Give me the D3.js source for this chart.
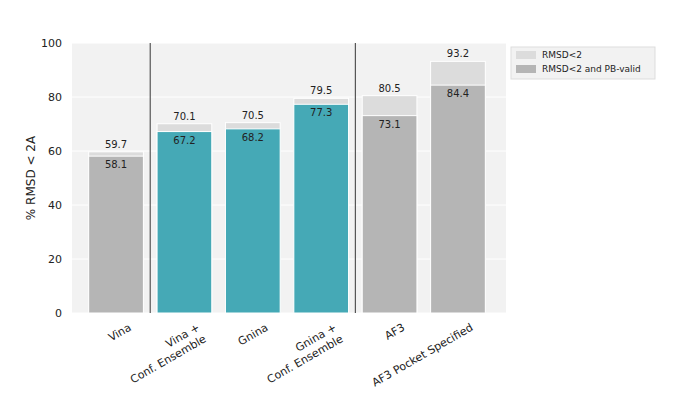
<!DOCTYPE html>
<html><head><meta charset="utf-8">
<script src="https://cdn.jsdelivr.net/npm/d3@7"></script>
<style>body{margin:0;background:#fff;font-family:"DejaVu Sans",sans-serif}</style>
</head><body><svg id="c"></svg>
<script>
const categories = ['Vina', 'Vina +\nConf. Ensemble', 'Gnina', 'Gnina +\nConf. Ensemble', 'AF3', 'AF3 Pocket Specified']
const rmsd = [59.7, 70.1, 70.5, 79.5, 80.5, 93.2]
const pbValid = [58.1, 67.2, 68.2, 77.3, 73.1, 84.4]
const isTeal = [false, true, true, true, false, false]
const yTicks = [0, 20, 40, 60, 80, 100]

const width = 680, height = 416
const svg = d3.select('#c').attr('width', width).attr('height', height)
const plot = { left: 72, right: 506, top: 43, bottom: 313 }

const x = d3.scaleBand().domain(categories).range([75, 499]).padding(0.2)
const y = d3.scaleLinear().domain([0, 100]).range([plot.bottom, plot.top])

svg.append('rect').attr('x', plot.left).attr('y', plot.top)
  .attr('width', plot.right - plot.left).attr('height', plot.bottom - plot.top).attr('fill', '#f2f2f2')

// grid
svg.append('g').selectAll('line').data(yTicks).enter().append('line')
  .attr('x1', plot.left).attr('x2', plot.right)
  .attr('y1', d => y(d)).attr('y2', d => y(d))
  .attr('stroke', '#fff').attr('stroke-width', 1)

svg.append('g').selectAll('text').data(yTicks).enter().append('text')
  .attr('x', plot.left - 10).attr('y', d => y(d)).attr('dy', '0.35em')
  .attr('text-anchor', 'end').attr('font-size', 11).attr('fill', '#222').text(d => d)

svg.append('text').attr('transform', `translate(35,${(plot.top + plot.bottom) / 2}) rotate(-90)`)
  .attr('text-anchor', 'middle').attr('font-size', 12).attr('fill', '#222').text('% RMSD < 2A')

// bars
const bars = svg.append('g')
bars.selectAll('.light').data(categories).enter().append('rect')
  .attr('x', d => x(d)).attr('width', x.bandwidth())
  .attr('y', (d, i) => y(rmsd[i])).attr('height', (d, i) => y(0) - y(rmsd[i]))
  .attr('fill', '#dcdcdc').attr('stroke', '#fff').attr('stroke-width', 1)
bars.selectAll('.dark').data(categories).enter().append('rect')
  .attr('x', d => x(d)).attr('width', x.bandwidth())
  .attr('y', (d, i) => y(pbValid[i])).attr('height', (d, i) => y(0) - y(pbValid[i]))
  .attr('fill', (d, i) => isTeal[i] ? '#45a9b6' : '#b5b5b5').attr('stroke', '#fff').attr('stroke-width', 1)

svg.append('g').selectAll('text').data(categories).enter().append('text')
  .attr('x', d => x(d) + x.bandwidth() / 2).attr('y', (d, i) => y(rmsd[i]) - 4)
  .attr('text-anchor', 'middle').attr('font-size', 10).attr('fill', '#222').text((d, i) => rmsd[i].toFixed(1))
svg.append('g').selectAll('text').data(categories).enter().append('text')
  .attr('x', d => x(d) + x.bandwidth() / 2).attr('y', (d, i) => y(pbValid[i]) + 12)
  .attr('text-anchor', 'middle').attr('font-size', 10).attr('fill', '#222').text((d, i) => pbValid[i].toFixed(1))

// dividers
const step = x.step()
;[0, 3].forEach(i => {
  const xx = x(categories[i]) + x.bandwidth() + (step - x.bandwidth()) / 2
  svg.append('line').attr('x1', xx).attr('x2', xx).attr('y1', plot.top).attr('y2', plot.bottom)
    .attr('stroke', '#555').attr('stroke-width', 1.2)
})

// x labels
categories.forEach(c => {
  const cx = x(c) + x.bandwidth() / 2 + 11
  const t = svg.append('text').attr('transform', `translate(${cx},${plot.bottom + 8}) rotate(-30)`)
    .attr('text-anchor', 'end').attr('font-size', 11).attr('fill', '#222')
  c.split('\n').forEach((l, k) => t.append('tspan').attr('x', 0).attr('dy', k === 0 ? '0.9em' : '1.2em').text(l))
})

// legend
const lg = svg.append('g').attr('transform', 'translate(511,47)')
lg.append('rect').attr('width', 144).attr('height', 32).attr('fill', '#f2f2f2').attr('stroke', '#ddd')
;[['#dcdcdc', 'RMSD<2'], ['#b5b5b5', 'RMSD<2 and PB-valid']].forEach((d, i) => {
  lg.append('rect').attr('x', 5).attr('y', 4 + i * 14).attr('width', 20).attr('height', 8).attr('fill', d[0])
  lg.append('text').attr('x', 31).attr('y', 8 + i * 14).attr('dy', '0.35em').attr('font-size', 9).attr('fill', '#222').text(d[1])
})
</script></body></html>
